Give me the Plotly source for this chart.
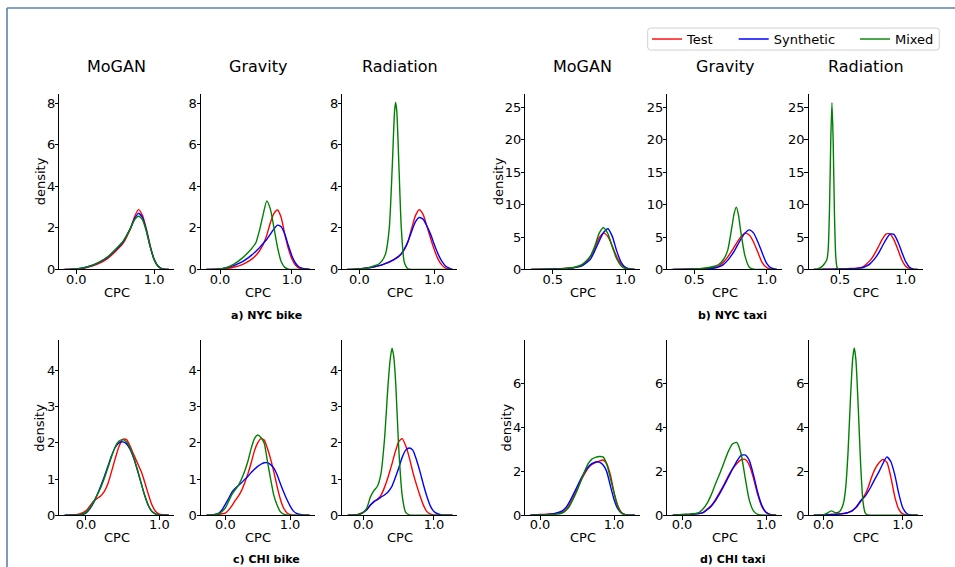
import plotly.graph_objects as go

# ---------------- data ----------------
SERIES = ["Test", "Synthetic", "Mixed"]
SERIES_COLORS = ["#ff0000", "#0000ff", "#008000"]
MODELS = ["MoGAN", "Gravity", "Radiation"]
DATASETS = ["a) NYC bike", "b) NYC taxi", "c) CHI bike", "d) CHI taxi"]

# a) NYC bike
nyc_bike_mogan_cpc = [-0.15, 0.0, 0.1, 0.2, 0.3, 0.4, 0.5, 0.6, 0.7, 0.75, 0.8, 0.85, 0.9, 0.95, 1.0, 1.05, 1.1, 1.19]
nyc_bike_mogan_test = [0, 0.02, 0.06, 0.16, 0.3, 0.52, 0.85, 1.25, 2.0, 2.55, 2.88, 2.6, 1.95, 1.15, 0.5, 0.17, 0.04, 0]
nyc_bike_mogan_synth = [0, 0.03, 0.08, 0.19, 0.35, 0.58, 0.92, 1.32, 2.02, 2.45, 2.7, 2.5, 1.9, 1.1, 0.48, 0.15, 0.03, 0]
nyc_bike_mogan_mixed = [0, 0.03, 0.09, 0.2, 0.37, 0.6, 0.95, 1.35, 2.0, 2.4, 2.56, 2.4, 1.85, 1.1, 0.48, 0.15, 0.03, 0]

nyc_bike_gravity_cpc = [-0.19, 0.0, 0.1, 0.2, 0.3, 0.4, 0.45, 0.5, 0.55, 0.6, 0.65, 0.7, 0.75, 0.8, 0.85, 0.9, 0.95, 1.0, 1.05, 1.1, 1.2, 1.25]
nyc_bike_gravity_test = [0, 0.02, 0.05, 0.12, 0.22, 0.4, 0.52, 0.68, 0.9, 1.2, 1.65, 2.25, 2.7, 2.86, 2.5, 1.7, 1.0, 0.5, 0.2, 0.07, 0.01, 0]
nyc_bike_gravity_synth = [0, 0.03, 0.1, 0.2, 0.35, 0.58, 0.72, 0.88, 1.05, 1.25, 1.45, 1.7, 1.95, 2.13, 2.05, 1.7, 1.15, 0.65, 0.3, 0.12, 0.02, 0]
nyc_bike_gravity_mixed = [0, 0.03, 0.1, 0.27, 0.52, 0.85, 1.05, 1.3, 1.9, 2.65, 3.3, 2.9, 2.0, 1.05, 0.38, 0.1, 0.02, 0, 0, 0, 0, 0]

nyc_bike_radiation_cpc = [-0.16, 0.0, 0.1, 0.2, 0.25, 0.3, 0.35, 0.4, 0.44, 0.47, 0.484, 0.5, 0.53, 0.56, 0.6, 0.65, 0.7, 0.75, 0.8, 0.85, 0.9, 0.95, 1.0, 1.05, 1.1, 1.15, 1.2, 1.24]
nyc_bike_radiation_test = [0, 0.03, 0.07, 0.13, 0.17, 0.22, 0.29, 0.36, 0.43, 0.49, 0.52, 0.56, 0.64, 0.74, 0.95, 1.35, 2.0, 2.6, 2.87, 2.65, 2.1, 1.5, 0.95, 0.5, 0.22, 0.07, 0.02, 0]
nyc_bike_radiation_synth = [0, 0.03, 0.07, 0.13, 0.17, 0.22, 0.29, 0.37, 0.44, 0.5, 0.53, 0.57, 0.65, 0.76, 0.98, 1.35, 1.85, 2.3, 2.5, 2.42, 2.1, 1.7, 1.2, 0.75, 0.4, 0.17, 0.06, 0]
nyc_bike_radiation_mixed = [0, 0.02, 0.06, 0.18, 0.24, 0.4, 0.75, 2.0, 5.0, 7.6, 8.03, 7.6, 4.8, 2.0, 0.35, 0.03, 0, 0, 0, 0, 0, 0, 0, 0, 0, 0, 0, 0]

# b) NYC taxi
nyc_taxi_mogan_cpc = [0.35, 0.45, 0.55, 0.6, 0.65, 0.7, 0.73, 0.76, 0.79, 0.82, 0.85, 0.88, 0.91, 0.94, 0.97, 1.0, 1.03, 1.065]
nyc_taxi_mogan_test = [0, 0.05, 0.12, 0.18, 0.3, 0.6, 1.15, 2.0, 3.3, 4.9, 5.6, 5.05, 3.6, 2.0, 0.84, 0.28, 0.07, 0]
nyc_taxi_mogan_synth = [0, 0.04, 0.1, 0.15, 0.28, 0.55, 1.0, 1.6, 2.9, 4.4, 5.7, 6.28, 5.1, 2.9, 1.15, 0.33, 0.07, 0]
nyc_taxi_mogan_mixed = [0, 0.05, 0.1, 0.18, 0.35, 0.75, 1.3, 2.1, 3.6, 5.6, 6.43, 5.5, 3.5, 1.65, 0.58, 0.15, 0.03, 0]

nyc_taxi_gravity_cpc = [0.35, 0.45, 0.55, 0.6, 0.64, 0.67, 0.7, 0.73, 0.76, 0.775, 0.79, 0.805, 0.82, 0.85, 0.88, 0.91, 0.94, 0.97, 1.0, 1.03, 1.07]
nyc_taxi_gravity_test = [0, 0.05, 0.12, 0.2, 0.3, 0.55, 1.1, 1.9, 2.9, 3.45, 4.0, 4.5, 5.0, 5.6, 5.3, 4.2, 2.6, 1.0, 0.3, 0.06, 0]
nyc_taxi_gravity_synth = [0, 0.04, 0.1, 0.15, 0.22, 0.4, 0.75, 1.4, 2.3, 2.8, 3.4, 4.0, 4.6, 5.6, 6.1, 5.6, 4.2, 2.5, 0.95, 0.25, 0.02]
nyc_taxi_gravity_mixed = [0, 0.05, 0.15, 0.3, 0.5, 0.8, 1.5, 2.9, 6.6, 8.6, 9.6, 8.4, 6.0, 2.1, 0.35, 0.05, 0, 0, 0, 0, 0]

nyc_taxi_radiation_cpc = [0.3, 0.33, 0.36, 0.38, 0.40, 0.41, 0.42, 0.43, 0.439, 0.448, 0.458, 0.468, 0.478, 0.49, 0.52, 0.58, 0.63, 0.67, 0.7, 0.73, 0.76, 0.79, 0.82, 0.85, 0.88, 0.91, 0.94, 0.97, 1.0, 1.03, 1.06, 1.09]
nyc_taxi_radiation_test = [0, 0.01, 0.02, 0.03, 0.04, 0.04, 0.05, 0.05, 0.06, 0.06, 0.07, 0.07, 0.08, 0.09, 0.1, 0.14, 0.2, 0.35, 0.8, 1.4, 2.3, 3.4, 4.6, 5.45, 5.5, 4.6, 3.1, 1.5, 0.5, 0.12, 0.02, 0]
nyc_taxi_radiation_synth = [0, 0.01, 0.02, 0.03, 0.03, 0.04, 0.04, 0.05, 0.05, 0.05, 0.06, 0.06, 0.07, 0.07, 0.08, 0.11, 0.17, 0.27, 0.5, 0.9, 1.55, 2.4, 3.5, 4.6, 5.45, 5.4, 4.3, 2.7, 1.2, 0.35, 0.06, 0]
nyc_taxi_radiation_mixed = [0, 0.1, 0.4, 0.85, 1.5, 3.0, 9.0, 20.0, 25.7, 20.0, 8.5, 2.0, 0.3, 0.02, 0, 0, 0, 0, 0, 0, 0, 0, 0, 0, 0, 0, 0, 0, 0, 0, 0, 0]

# c) CHI bike
chi_bike_mogan_cpc = [-0.29, -0.2, -0.1, 0.0, 0.05, 0.1, 0.15, 0.2, 0.25, 0.3, 0.35, 0.4, 0.45, 0.5, 0.55, 0.6, 0.65, 0.7, 0.75, 0.8, 0.85, 0.9, 0.95, 1.0, 1.13]
chi_bike_mogan_test = [0, 0.005, 0.03, 0.12, 0.25, 0.38, 0.46, 0.53, 0.66, 0.88, 1.22, 1.58, 1.9, 2.1, 2.1, 1.92, 1.68, 1.45, 1.22, 0.92, 0.58, 0.28, 0.1, 0.03, 0]
chi_bike_mogan_synth = [0, 0, 0.005, 0.06, 0.17, 0.33, 0.55, 0.8, 1.07, 1.36, 1.65, 1.88, 2.0, 2.03, 1.98, 1.83, 1.58, 1.25, 0.9, 0.55, 0.27, 0.1, 0.03, 0.01, 0]
chi_bike_mogan_mixed = [0, 0, 0.01, 0.08, 0.2, 0.36, 0.55, 0.76, 1.02, 1.32, 1.63, 1.9, 2.05, 2.09, 2.03, 1.86, 1.6, 1.27, 0.9, 0.55, 0.27, 0.1, 0.03, 0.01, 0]

chi_bike_gravity_cpc = [-0.29, -0.2, -0.1, -0.05, 0.0, 0.05, 0.1, 0.15, 0.2, 0.25, 0.3, 0.35, 0.4, 0.45, 0.5, 0.55, 0.6, 0.65, 0.7, 0.75, 0.8, 0.85, 0.9, 0.95, 1.0, 1.05, 1.1, 1.2, 1.3]
chi_bike_gravity_test = [0, 0, 0.02, 0.04, 0.06, 0.14, 0.26, 0.4, 0.52, 0.68, 0.9, 1.15, 1.45, 1.78, 2.0, 2.12, 2.08, 1.85, 1.55, 1.2, 0.8, 0.45, 0.2, 0.07, 0.02, 0, 0, 0, 0]
chi_bike_gravity_synth = [0, 0.01, 0.06, 0.15, 0.3, 0.46, 0.63, 0.74, 0.82, 0.9, 0.99, 1.08, 1.18, 1.27, 1.35, 1.41, 1.45, 1.45, 1.4, 1.3, 1.12, 0.88, 0.65, 0.44, 0.26, 0.12, 0.05, 0.01, 0]
chi_bike_gravity_mixed = [0, 0.01, 0.04, 0.1, 0.2, 0.38, 0.57, 0.7, 0.82, 1.0, 1.22, 1.5, 1.85, 2.12, 2.22, 2.15, 2.0, 1.5, 1.0, 0.55, 0.28, 0.1, 0.03, 0.01, 0, 0, 0, 0, 0]

chi_bike_radiation_cpc = [-0.22, -0.1, -0.05, 0.0, 0.05, 0.1, 0.15, 0.2, 0.25, 0.3, 0.35, 0.38, 0.406, 0.43, 0.46, 0.5, 0.55, 0.6, 0.65, 0.7, 0.75, 0.8, 0.85, 0.9, 0.95, 1.0, 1.05, 1.1, 1.18, 1.26]
chi_bike_radiation_test = [0, 0.01, 0.04, 0.08, 0.15, 0.28, 0.38, 0.44, 0.55, 0.77, 1.05, 1.25, 1.42, 1.6, 1.8, 2.03, 2.12, 1.92, 1.6, 1.2, 0.86, 0.55, 0.28, 0.1, 0.03, 0.01, 0, 0, 0, 0]
chi_bike_radiation_synth = [0, 0.01, 0.03, 0.08, 0.16, 0.28, 0.37, 0.43, 0.5, 0.56, 0.64, 0.72, 0.8, 0.92, 1.08, 1.3, 1.6, 1.8, 1.86, 1.8, 1.55, 1.22, 0.85, 0.52, 0.25, 0.1, 0.04, 0.01, 0, 0]
chi_bike_radiation_mixed = [0, 0.005, 0.02, 0.08, 0.2, 0.5, 0.68, 0.8, 1.15, 2.1, 3.6, 4.3, 4.62, 4.4, 3.6, 1.9, 0.55, 0.08, 0.01, 0, 0, 0, 0, 0, 0, 0, 0, 0, 0, 0]

# d) CHI taxi
chi_taxi_mogan_cpc = [-0.13, 0.0, 0.1, 0.2, 0.3, 0.35, 0.4, 0.45, 0.5, 0.55, 0.6, 0.65, 0.7, 0.75, 0.8, 0.85, 0.9, 0.95, 1.0, 1.05, 1.1, 1.15, 1.2, 1.28]
chi_taxi_mogan_test = [0, 0.03, 0.05, 0.07, 0.14, 0.25, 0.5, 0.82, 1.18, 1.55, 1.87, 2.15, 2.32, 2.4, 2.47, 2.52, 2.35, 1.85, 1.05, 0.45, 0.13, 0.03, 0, 0]
chi_taxi_mogan_synth = [0, 0.02, 0.04, 0.08, 0.2, 0.35, 0.62, 0.95, 1.3, 1.65, 1.95, 2.2, 2.35, 2.43, 2.42, 2.3, 2.0, 1.35, 0.72, 0.3, 0.1, 0.02, 0, 0]
chi_taxi_mogan_mixed = [0, 0.01, 0.02, 0.04, 0.1, 0.22, 0.42, 0.75, 1.12, 1.55, 1.98, 2.35, 2.56, 2.64, 2.68, 2.66, 2.35, 1.7, 1.0, 0.38, 0.1, 0.02, 0, 0]

chi_taxi_gravity_cpc = [-0.11, 0.0, 0.1, 0.2, 0.25, 0.3, 0.35, 0.4, 0.45, 0.5, 0.55, 0.6, 0.65, 0.7, 0.75, 0.8, 0.85, 0.9, 0.95, 1.0, 1.05, 1.12]
chi_taxi_gravity_test = [0, 0.02, 0.04, 0.07, 0.12, 0.28, 0.45, 0.72, 1.05, 1.4, 1.78, 2.1, 2.35, 2.52, 2.55, 2.3, 1.7, 0.95, 0.4, 0.12, 0.03, 0]
chi_taxi_gravity_synth = [0, 0.02, 0.04, 0.07, 0.12, 0.25, 0.42, 0.68, 1.0, 1.35, 1.72, 2.1, 2.45, 2.72, 2.75, 2.5, 1.85, 1.05, 0.45, 0.13, 0.03, 0]
chi_taxi_gravity_mixed = [0, 0.03, 0.05, 0.12, 0.28, 0.55, 0.95, 1.45, 1.9, 2.4, 2.9, 3.25, 3.32, 2.85, 1.75, 0.7, 0.2, 0.04, 0.01, 0, 0, 0]

chi_taxi_radiation_cpc = [-0.12, 0.0, 0.05, 0.1, 0.15, 0.2, 0.25, 0.28, 0.31, 0.34, 0.37, 0.39, 0.41, 0.44, 0.47, 0.5, 0.53, 0.56, 0.6, 0.65, 0.7, 0.75, 0.8, 0.85, 0.9, 0.95, 1.0, 1.05, 1.1, 1.19]
chi_taxi_radiation_test = [0, 0.01, 0.02, 0.03, 0.05, 0.06, 0.08, 0.1, 0.12, 0.16, 0.22, 0.28, 0.35, 0.48, 0.62, 0.8, 0.98, 1.22, 1.65, 2.1, 2.38, 2.54, 2.42, 1.75, 0.85, 0.28, 0.06, 0.01, 0, 0]
chi_taxi_radiation_synth = [0, 0.01, 0.02, 0.03, 0.04, 0.05, 0.07, 0.09, 0.12, 0.16, 0.22, 0.28, 0.35, 0.5, 0.66, 0.77, 0.88, 1.05, 1.3, 1.65, 1.98, 2.35, 2.66, 2.45, 1.85, 1.0, 0.35, 0.08, 0.01, 0]
chi_taxi_radiation_mixed = [0, 0.01, 0.1, 0.2, 0.12, 0.15, 0.5, 1.2, 2.8, 5.2, 7.16, 7.63, 7.1, 4.9, 2.3, 0.6, 0.08, 0.01, 0, 0, 0, 0, 0, 0, 0, 0, 0, 0, 0, 0]

# tick values
bike_x_ticks = [0.0, 1.0]
nyc_taxi_x_ticks = [0.5, 1.0]
chi_taxi_x_ticks = [0.0, 1.0]
nyc_bike_y_ticks = [0, 2, 4, 6, 8]
nyc_taxi_y_ticks = [0, 5, 10, 15, 20, 25]
chi_bike_y_ticks = [0, 1, 2, 3, 4]
chi_taxi_y_ticks = [0, 2, 4, 6]

panel_data = [
    (nyc_bike_mogan_cpc, [nyc_bike_mogan_test, nyc_bike_mogan_synth, nyc_bike_mogan_mixed]),
    (nyc_bike_gravity_cpc, [nyc_bike_gravity_test, nyc_bike_gravity_synth, nyc_bike_gravity_mixed]),
    (nyc_bike_radiation_cpc, [nyc_bike_radiation_test, nyc_bike_radiation_synth, nyc_bike_radiation_mixed]),
    (nyc_taxi_mogan_cpc, [nyc_taxi_mogan_test, nyc_taxi_mogan_synth, nyc_taxi_mogan_mixed]),
    (nyc_taxi_gravity_cpc, [nyc_taxi_gravity_test, nyc_taxi_gravity_synth, nyc_taxi_gravity_mixed]),
    (nyc_taxi_radiation_cpc, [nyc_taxi_radiation_test, nyc_taxi_radiation_synth, nyc_taxi_radiation_mixed]),
    (chi_bike_mogan_cpc, [chi_bike_mogan_test, chi_bike_mogan_synth, chi_bike_mogan_mixed]),
    (chi_bike_gravity_cpc, [chi_bike_gravity_test, chi_bike_gravity_synth, chi_bike_gravity_mixed]),
    (chi_bike_radiation_cpc, [chi_bike_radiation_test, chi_bike_radiation_synth, chi_bike_radiation_mixed]),
    (chi_taxi_mogan_cpc, [chi_taxi_mogan_test, chi_taxi_mogan_synth, chi_taxi_mogan_mixed]),
    (chi_taxi_gravity_cpc, [chi_taxi_gravity_test, chi_taxi_gravity_synth, chi_taxi_gravity_mixed]),
    (chi_taxi_radiation_cpc, [chi_taxi_radiation_test, chi_taxi_radiation_synth, chi_taxi_radiation_mixed]),
]

# ---------------- layout geometry (reference-image pixels) ----------------
REF_W, REF_H = 955, 567
W, H = 955, 576          # page height that photographs to the reference height
FONT = "DejaVu Sans"
col_px = [(59.3, 174.0), (201.0, 315.0), (342.3, 457.3),
          (525.3, 640.3), (667.3, 782.0), (808.7, 923.3)]
row_px = [(94.0, 269.0), (339.3, 514.3)]
x_ranges = [[-0.218, 1.256], [-0.264, 1.32], [-0.227, 1.307],
            [0.311, 1.103], [0.313, 1.106], [0.262, 1.134],
            [-0.364, 1.2], [-0.376, 1.386], [-0.297, 1.33],
            [-0.199, 1.355], [-0.175, 1.19], [-0.185, 1.26]]
y_max = [8.43, 27.0, 4.85, 8.0]  # per dataset group
x_tick_sets = [bike_x_ticks, nyc_taxi_x_ticks, bike_x_ticks, chi_taxi_x_ticks]
y_tick_sets = [nyc_bike_y_ticks, nyc_taxi_y_ticks, chi_bike_y_ticks, chi_taxi_y_ticks]


def fx(p):
    return p / REF_W


def fy(p):
    return 1 - p / REF_H


fig = go.Figure()
layout_axes = {}
annotations = []

for i, (cpc, curves) in enumerate(panel_data):
    row = i // 6
    col = i % 6
    group = row * 2 + (col // 3)
    sfx = "" if i == 0 else str(i + 1)
    for s, (name, color, vals) in enumerate(zip(SERIES, SERIES_COLORS, curves)):
        fig.add_trace(go.Scatter(
            x=cpc, y=vals, mode="lines", name=name,
            line=dict(color=color, width=1.4, shape="spline", smoothing=0.6),
            xaxis="x" + sfx, yaxis="y" + sfx,
            showlegend=(i == 0),
            legend="legend" if s == 0 else "legend%d" % (s + 1),
            hoverinfo="skip",
        ))
    x0, x1 = col_px[col]
    yt, yb = row_px[row]
    xt = x_tick_sets[group]
    yt_vals = y_tick_sets[group]
    common = dict(showline=True, linecolor="black", linewidth=1,
                  ticks="outside", ticklen=3.5, tickwidth=1, tickcolor="black",
                  showgrid=False, zeroline=False,
                  tickfont=dict(family=FONT, size=13, color="black"))
    layout_axes["xaxis" + sfx] = dict(
        domain=[fx(x0), fx(x1)], range=x_ranges[i], anchor="y" + sfx,
        tickvals=xt, ticktext=["%.1f" % v for v in xt], ticklabelstandoff=-6, **common)
    layout_axes["yaxis" + sfx] = dict(
        domain=[fy(yb), fy(yt)], range=[0, y_max[group]], anchor="x" + sfx,
        tickvals=yt_vals, ticktext=[str(v) for v in yt_vals], ticklabelstandoff=-3, **common)
    cx = (x0 + x1) / 2
    annotations.append(dict(text="CPC", x=fx(cx), y=fy(292 if row == 0 else 537),
                            xref="paper", yref="paper", showarrow=False,
                            xanchor="center", yanchor="middle",
                            font=dict(family=FONT, size=13, color="black")))
    if row == 0:
        annotations.append(dict(text=MODELS[col % 3], x=fx(cx), y=fy(66),
                                xref="paper", yref="paper", showarrow=False,
                                xanchor="center", yanchor="middle",
                                font=dict(family=FONT, size=16, color="black")))

density_pos = [(40, 181), (498, 181), (40, 427), (506.7, 427)]
for (dx, dy) in density_pos:
    annotations.append(dict(text="density", x=fx(dx), y=fy(dy), xref="paper", yref="paper",
                            showarrow=False, textangle=-90, xanchor="center", yanchor="middle",
                            font=dict(family=FONT, size=13, color="black")))

subtitle_pos = [(266, 315), (732.5, 315), (266, 559), (732.5, 559)]
for label, (sx, sy) in zip(DATASETS, subtitle_pos):
    annotations.append(dict(text=label, x=fx(sx), y=fy(sy), xref="paper", yref="paper",
                            showarrow=False, xanchor="center", yanchor="middle",
                            font=dict(family=FONT, size=11, color="black", weight="bold")))


def rounded_rect(x0, y0, x1, y1, r):
    p = [
        "M %f,%f" % (fx(x0 + r), fy(y0)),
        "L %f,%f" % (fx(x1 - r), fy(y0)),
        "Q %f,%f %f,%f" % (fx(x1), fy(y0), fx(x1), fy(y0 + r)),
        "L %f,%f" % (fx(x1), fy(y1 - r)),
        "Q %f,%f %f,%f" % (fx(x1), fy(y1), fx(x1 - r), fy(y1)),
        "L %f,%f" % (fx(x0 + r), fy(y1)),
        "Q %f,%f %f,%f" % (fx(x0), fy(y1), fx(x0), fy(y1 - r)),
        "L %f,%f" % (fx(x0), fy(y0 + r)),
        "Q %f,%f %f,%f" % (fx(x0), fy(y0), fx(x0 + r), fy(y0)),
        "Z",
    ]
    return " ".join(p)


BORDER = "#5f80ac"
shapes = [
    dict(type="path", path=rounded_rect(647.7, 28, 939.3, 50, 3), xref="paper", yref="paper",
         line=dict(color="#d0d0d0", width=1), fillcolor="rgba(255,255,255,0.8)", layer="below"),
    dict(type="line", x0=fx(7), y0=fy(8), x1=1, y1=fy(8), xref="paper", yref="paper",
         line=dict(color=BORDER, width=1.6)),
    dict(type="line", x0=fx(7), y0=fy(8), x1=fx(7), y1=0, xref="paper", yref="paper",
         line=dict(color=BORDER, width=1.6)),
]

legend_common = dict(orientation="h", yanchor="middle", xanchor="left",
                     bgcolor="rgba(0,0,0,0)", borderwidth=0,
                     font=dict(family=FONT, size=13, color="black"))
legend_x = [647, 733.7, 855]

fig.update_layout(
    width=W, height=H,
    margin=dict(l=0, r=0, t=0, b=0),
    paper_bgcolor="white", plot_bgcolor="white",
    font=dict(family=FONT, size=13, color="black"),
    annotations=annotations,
    shapes=shapes,
    legend=dict(x=fx(legend_x[0]), y=fy(39), **legend_common),
    legend2=dict(x=fx(legend_x[1]), y=fy(39), **legend_common),
    legend3=dict(x=fx(legend_x[2]), y=fy(39), **legend_common),
    **layout_axes,
)

# remove the default page margin so the figure starts at the window corner
fig.write_html("out.html",
               config={"displayModeBar": False},
               post_script="document.body.style.margin='0';document.body.style.overflow='hidden';")
